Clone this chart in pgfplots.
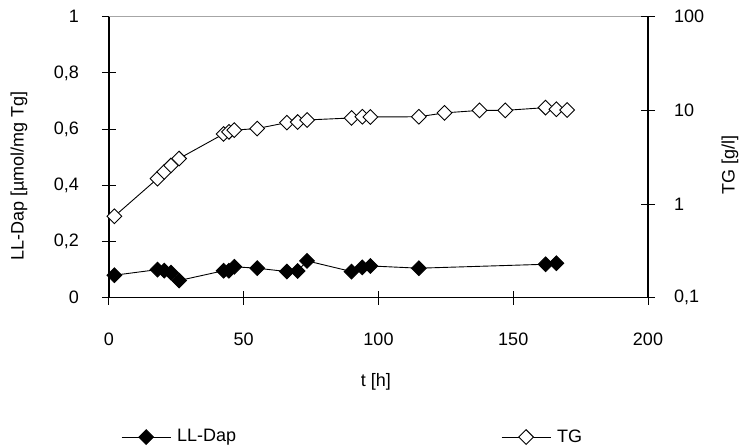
\documentclass[border=0pt]{standalone}
\usepackage{fontspec}
\setmainfont{Liberation Sans}
\usepackage{pgfplots}
\pgfplotsset{compat=1.18}
\begin{document}
\fontsize{18bp}{21bp}\selectfont
\begin{tikzpicture}
\useasboundingbox (-109bp,-149.3bp) rectangle (635bp,297.7bp);
\pgfplotsset{
  common/.style={
    scale only axis, width=539bp, height=281bp,
    xmin=0, xmax=200,
    tick align=center, major tick length=14bp,
    every tick/.style={black, line width=1bp},
    axis line style={black, line width=1.1bp},
    legend image code/.code={\draw[mark repeat=2,mark phase=2,##1] plot coordinates {(0bp,0bp) (24.5bp,0bp) (49bp,0bp)};},
  },
  llstyle/.style={black, line width=0.9bp, mark=square*, mark size=5.2bp, mark options={rotate=45, fill=black, solid}},
  tgstyle/.style={black, line width=0.9bp, mark=square*, mark size=5.2bp, mark options={rotate=45, fill=white, solid}},
}
\begin{axis}[common,
  axis y line*=left, axis x line*=bottom,
  ymin=0, ymax=1,
  ytick={0,0.2,0.4,0.6,0.8,1},
  yticklabels={0,{0,2},{0,4},{0,6},{0,8},1},
  xtick={0,50,100,150,200},
  xticklabels={0,50,100,150,200},
  xticklabel style={anchor=center, inner sep=0pt, yshift=-35bp},
  yticklabel style={anchor=east, inner sep=0pt, xshift=-23bp},
  every axis y label/.style={at={(axis description cs:-0.167,0.433)}, rotate=90, anchor=center},
  every axis x label/.style={at={(axis description cs:0.495,-0.300)}, anchor=center},
  ylabel={LL-Dap [µmol/mg Tg]},
  xlabel={t [h]},
  clip=false,
]
\draw[gray!70, line width=1bp] (rel axis cs:0,1) -- (rel axis cs:1,1);
\addplot[llstyle] coordinates {
(2,0.08) (18,0.10) (20.5,0.096) (23,0.089) (26,0.061) (42.5,0.096) (44.5,0.096) (46.5,0.11) (55,0.105) (66,0.093) (70,0.095) (73.5,0.131) (90,0.093) (94,0.108) (97,0.113) (115,0.105) (162,0.119) (166,0.123)
};
\end{axis}
\begin{axis}[common,
  axis y line*=right, axis x line=none,
  ymode=log, ymin=0.1, ymax=100,
  ytick={0.1,1,10,100},
  yticklabels={{0,1},1,10,100},
  yminorticks=false,
  yticklabel style={anchor=west, inner sep=0pt, xshift=19bp},
  every axis y label/.style={at={(axis description cs:1.152,0.472)}, rotate=90, anchor=center},
  ylabel={TG [g/l]},
  clip=false,
  legend columns=2,
  legend style={draw=none, fill=none, inner xsep=0pt, inner ysep=0pt,
    at={(axis description cs:0.0223,-0.496)}, anchor=west,
    nodes={inner sep=2bp},
    column sep=4bp,
    /tikz/every even column/.append style={column sep=263bp}},
]
\addlegendimage{llstyle}
\addlegendentry{LL-Dap}
\addplot[tgstyle] coordinates {
(2,0.74) (18,1.87) (20.5,2.2) (23,2.58) (26,3.06) (42.5,5.6) (44.5,5.9) (46.5,6.15) (55,6.4) (66,7.4) (70,7.5) (73.5,7.9) (90,8.3) (94,8.55) (97,8.5) (115,8.55) (124.5,9.4) (137.5,10.0) (147,10.0) (162,10.7) (166,10.3) (170,10.1)
};
\addlegendentry{TG}
\end{axis}
\end{tikzpicture}
\end{document}
